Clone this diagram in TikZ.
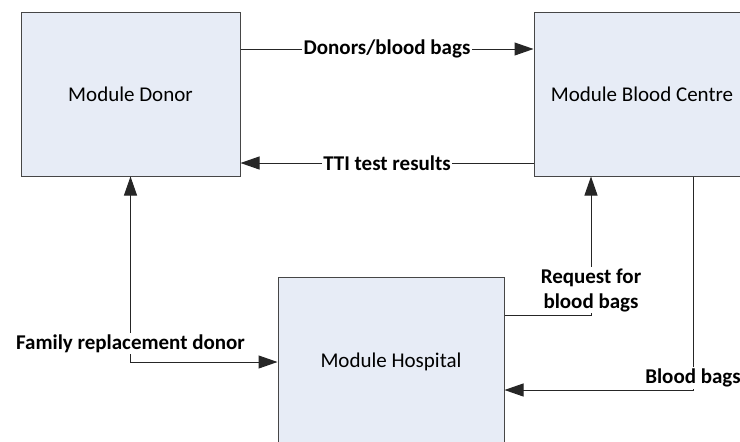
\documentclass[tikz,border=0pt]{standalone}
\usepackage{fontspec}
\setmainfont{Carlito}
\usetikzlibrary{arrows.meta}
\definecolor{modfill}{RGB}{231,236,246}
\definecolor{modline}{RGB}{70,70,70}
\tikzset{
	module/.style={draw=modline, line width=1pt, fill=modfill, font=\fontsize{21}{25}\selectfont},
	flow/.style={draw=black!85, line width=1pt, -{Triangle[length=19pt,width=13pt]}},
	lbl/.style={fill=white, inner sep=1.5pt, align=center, font=\fontsize{21}{25}\selectfont\bfseries}
}
\begin{document}
	\begin{tikzpicture}[x=1pt, y=-1pt]
		\clip (0,0) rectangle (740,442);
		\useasboundingbox (0,0) rectangle (740,442);
		\node[module, minimum width=219pt, minimum height=164pt] (donor) at (130.5,94) {Module Donor};
		\node[module, minimum width=216pt, minimum height=164pt] (centre) at (642,94) {Module Blood Centre};
		\node[module, minimum width=226pt, minimum height=170pt] (hosp) at (391,362) {Module Hospital};
		\draw[flow] (donor.east |- 0,49) -- (centre.west |- 0,49) node[lbl, midway] {Donors/blood bags};
		\draw[flow] (centre.west |- 0,163) -- (donor.east |- 0,163) node[lbl, midway] {TTI test results};
		\draw[flow, {Triangle[length=19pt,width=13pt]}-{Triangle[length=19pt,width=13pt]}] (donor.south) |- (hosp.west) node[lbl, pos=0.45] {Family replacement donor};
		\draw[flow] (hosp.east |- 0,315) -| (centre.south -| 591,0) node[lbl, pos=0.59] {Request for\\blood bags};
		\draw[flow] (centre.south -| 693,0) |- (hosp.east |- 0,390) node[lbl, pos=0.472] {Blood bags};
	\end{tikzpicture}
\end{document}
